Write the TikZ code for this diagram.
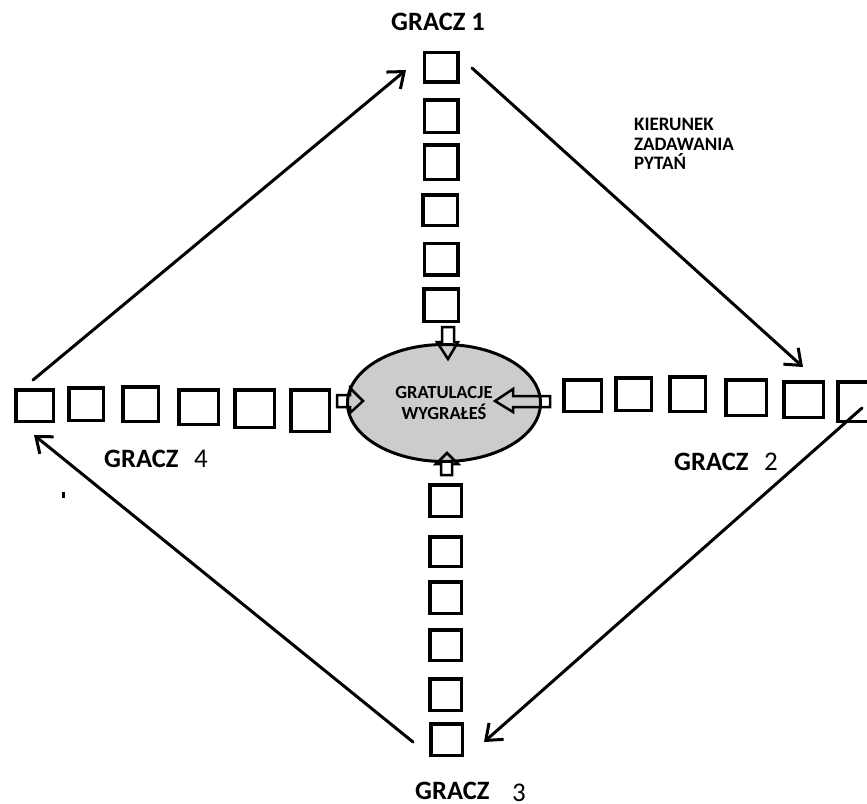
\documentclass[tikz,border=0pt]{standalone}
\usepackage{fontspec}
\setmainfont{Carlito}
\usetikzlibrary{arrows.meta,shapes.geometric}
\newcommand\mysq[5]{\node[sq,minimum width=#4pt-3.5pt,minimum height=#5pt-3.5pt] (#1) at (#2,#3) {};}
\begin{document}
\begin{tikzpicture}[x=1pt,y=-1pt,
  sq/.style={draw,line width=3.5pt,inner sep=0pt},
  flow/.style={line width=3pt,line cap=round,-{Straight Barb[length=14pt,width=22pt,line width=3pt]}},
  blk/.style={draw,line width=2.5pt,line join=miter},
  lbl/.style={font=\bfseries\fontsize{26.5}{30}\selectfont,inner sep=0pt},
  num/.style={font=\fontsize{27}{30}\selectfont,inner sep=0pt}
]
\useasboundingbox (0,0) rectangle (867,803);
\clip (0,0) rectangle (867,803);
% top column
\mysq{t1}{441}{67}{37}{33}
\mysq{t2}{441}{116}{37}{36}
\mysq{t3}{441}{162}{37}{38}
\mysq{t4}{440}{210}{38}{34}
\mysq{t5}{441}{259}{37}{35}
\mysq{t6}{441}{305}{38}{36}
% right row
\mysq{r1}{582.5}{395.5}{41}{35}
\mysq{r2}{633.5}{394}{39}{36}
\mysq{r3}{687.5}{394}{39}{38}
\mysq{r4}{746}{397.5}{44}{39}
\mysq{r5}{803.5}{399.5}{43}{39}
\mysq{r6}{860}{401.5}{48}{43}
% left row
\mysq{l1}{34.5}{405.5}{41}{35}
\mysq{l2}{86}{404}{38}{36}
\mysq{l3}{140.5}{404}{39}{38}
\mysq{l4}{198.5}{407}{43}{38}
\mysq{l5}{254.5}{408.5}{43}{41}
\mysq{l6}{310}{410.5}{42}{45}
% bottom column
\mysq{b1}{445.5}{500.5}{35}{35}
\mysq{b2}{445.5}{551.5}{35}{33}
\mysq{b3}{445.5}{597.5}{35}{35}
\mysq{b4}{445.5}{645}{35}{34}
\mysq{b5}{445.5}{694.5}{35}{35}
\mysq{b6}{446.5}{739.5}{35}{35}
% centre
\node[draw,ellipse,line width=3pt,fill=gray!40,minimum width=193pt,minimum height=117pt,inner sep=0pt,
  align=center,font=\bfseries\fontsize{18.5}{21}\selectfont] (win) at (444,403) {GRATULACJE\\WYGRAŁEŚ};
% block arrows
\draw[blk] (442,327) -- (454,327) -- (454,342) -- (458,342) -- (448,359) -- (437,342) -- (442,342) -- cycle;
\draw[blk] (550,396) -- (513,396) -- (513,389) -- (495,401) -- (513,412) -- (513,407) -- (550,407) -- cycle;
\draw[blk] (337,395) -- (350,395) -- (350,388) -- (363,401) -- (350,413) -- (350,407) -- (337,407) -- cycle;
\draw[blk] (441,475) -- (452,475) -- (452,464) -- (458,464) -- (447,453) -- (436,464) -- (441,464) -- cycle;
% flow arrows
\coordinate (p1s) at (472,68);
\coordinate (p1e) at (803,367);
\coordinate (p2s) at (862,408);
\coordinate (p2e) at (484,742);
\coordinate (p3s) at (413,742);
\coordinate (p3e) at (34,435);
\coordinate (p4s) at (33,380);
\coordinate (p4e) at (406,70);
\draw[flow] (p1s) -- (p1e);
\draw[flow] (p2s) -- (p2e);
\draw[flow] (p3s) -- (p3e);
\draw[flow] (p4s) -- (p4e);
% labels
\node[lbl,anchor=base west] (g1) at (391,30) {GRACZ 1};
\node[lbl,anchor=base west] (g2) at (674,470) {GRACZ};
\node[num,anchor=base west] (g2n) at (764,470) {2};
\node[lbl,anchor=base west] (g3) at (415,799) {GRACZ};
\node[num,anchor=base west] (g3n) at (512,801) {3};
\node[lbl,anchor=base west] (g4) at (104,467) {GRACZ};
\node[num,anchor=base west] (g4n) at (194,467) {4};
\node[anchor=north west,align=left,inner sep=0pt,font=\bfseries\fontsize{19}{19.5}\selectfont] (dir) at (634,118) {KIERUNEK\\ZADAWANIA\\PYTAŃ};
\fill (61.5,492) rectangle (64.5,498);
\end{tikzpicture}
\end{document}
